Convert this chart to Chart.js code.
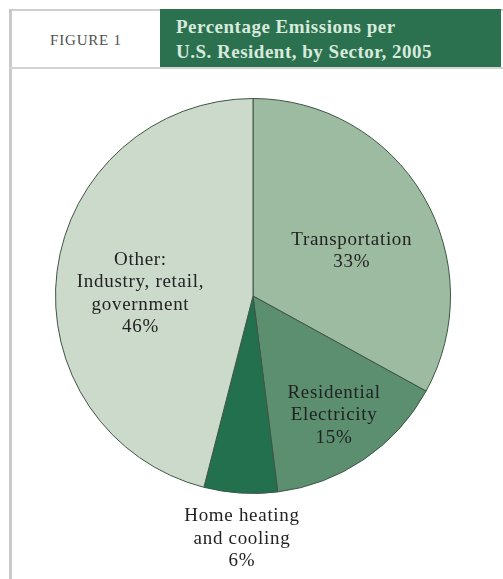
<!DOCTYPE html>
<html>
<head>
<meta charset="utf-8">
<script src="https://cdn.jsdelivr.net/npm/chart.js@4"></script>
<style>
  html, body { margin: 0; padding: 0; background: #fff; }
  body { width: 503px; height: 579px; position: relative; overflow: hidden; font-family: "Liberation Serif", "DejaVu Serif", serif; }
  .frame-left { position: absolute; left: 9px; top: 9px; width: 3px; bottom: 0; background: #c9c9c9; }
  .frame-top { position: absolute; left: 9px; top: 9px; right: 0; height: 2px; background: #cfcfcf; }
  .frame-mid { position: absolute; left: 9px; top: 67px; right: 0; height: 2px; background: #d3d3d3; }
  .fig { position: absolute; left: 12px; top: 11px; width: 148px; height: 56px; color: #505050; font-size: 15px; line-height: 58px; text-align: center; letter-spacing: 0.8px; }
  .title { position: absolute; left: 160px; top: 9px; width: 341px; height: 58px; background: #2b7150; color: #d7eadb; font-size: 19px; font-weight: bold; letter-spacing: 0.5px; line-height: 25px; padding: 5px 0 0 16px; box-sizing: border-box; }
  #wrap { position: absolute; left: 0; top: 68px; width: 503px; height: 511px; }
</style>
</head>
<body>
<div class="frame-top"></div>
<div class="frame-left"></div>
<div class="frame-mid"></div>
<div class="fig">FIGURE 1</div>
<div class="title">Percentage Emissions per<br>U.S. Resident, by Sector, 2005</div>
<div id="wrap"><canvas id="pie"></canvas></div>
<script>
// data
const sectors = ['Transportation', 'Residential\nElectricity', 'Home heating\nand cooling', 'Other:\nIndustry, retail,\ngovernment'];
const shares = [33, 15, 6, 46];
const sliceColors = ['#9cbba0', '#5b8f70', '#23704e', '#cbdacb'];

// where each label sits: fraction of radius and angle nudge (degrees)
const labelDist = [0.55, 0.73, 1.23, 0.57];
const labelNudge = [6, 0, -1, -6];

const sliceLabels = {
    id: 'sliceLabels',
    afterDatasetsDraw(chart) {
        const ctx = chart.ctx;
        const arcs = chart.getDatasetMeta(0).data;
        ctx.save();
        ctx.font = '19px "Liberation Serif", serif';
        ctx.letterSpacing = '0.7px';
        ctx.fillStyle = '#222';
        ctx.textAlign = 'center';
        ctx.textBaseline = 'middle';
        arcs.forEach((arc, i) => {
            const p = arc.getProps(['x', 'y', 'startAngle', 'endAngle', 'outerRadius'], true);
            const mid = (p.startAngle + p.endAngle) / 2 + labelNudge[i] * Math.PI / 180;
            const r = p.outerRadius * labelDist[i];
            const cx = p.x + Math.cos(mid) * r;
            const cy = p.y + Math.sin(mid) * r;
            const lines = sectors[i].split('\n').concat(shares[i] + '%');
            const lh = 22.5;
            const top = cy - (lines.length - 1) * lh / 2;
            lines.forEach((t, j) => ctx.fillText(t, cx, top + j * lh));
        });
        ctx.restore();
    }
};

new Chart(document.getElementById('pie'), {
    type: 'pie',
    data: {
        labels: sectors,
        datasets: [{
            data: shares,
            backgroundColor: sliceColors,
            borderColor: '#3e5546',
            borderWidth: 1
        }]
    },
    options: {
        responsive: true,
        maintainAspectRatio: false,
        animation: false,
        layout: { padding: { top: 30, bottom: 85, left: 55, right: 52 } },
        plugins: {
            legend: { display: false },
            tooltip: { enabled: false }
        }
    },
    plugins: [sliceLabels]
});
</script>
</body>
</html>
